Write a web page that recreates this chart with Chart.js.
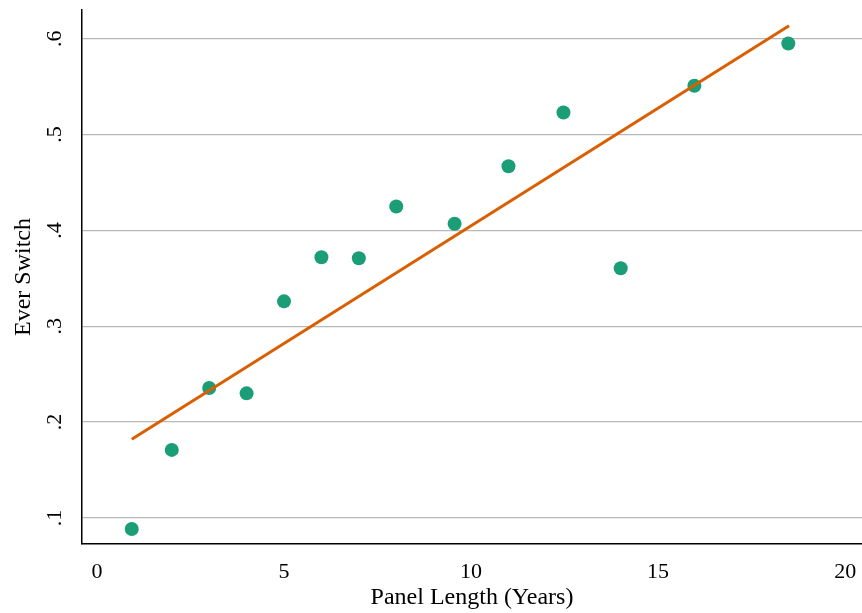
<!DOCTYPE html>
<html><head><meta charset="utf-8">
<script src="https://cdn.jsdelivr.net/npm/chart.js@4/dist/chart.umd.min.js"></script>
<style>html,body{margin:0;padding:0;background:#fff}#wrap{width:862px;height:613px}</style>
</head><body><div id="wrap"><canvas id="c" width="862" height="613"></canvas></div>
<script>
const panelLength = [0.93, 2, 3, 4, 5, 6, 7, 8, 9.56, 11, 12.47, 14, 15.97, 18.48];
const everSwitch = [0.0885, 0.171, 0.2355, 0.230, 0.326, 0.372, 0.371, 0.425, 0.407, 0.467, 0.523, 0.3605, 0.551, 0.595];
const fitX = [0.93, 18.5];
const fitY = [0.182, 0.6136];
const xTicks = [0, 5, 10, 15, 20];
const yTicks = [0.1, 0.2, 0.3, 0.4, 0.5, 0.6];
const yTickLabels = ['.1', '.2', '.3', '.4', '.5', '.6'];

const serif = "'Liberation Serif', 'Times New Roman', serif";

function noPad(s) { s.paddingTop = 0; s.paddingBottom = 0; s.paddingLeft = 0; s.paddingRight = 0; }

new Chart(document.getElementById('c'), {
  type: 'scatter',
  data: {
    datasets: [
      {
        type: 'line',
        order: 0,
        data: fitX.map((x, i) => ({x: x, y: fitY[i]})),
        borderColor: '#d95f02',
        borderWidth: 3,
        pointRadius: 0,
        fill: false,
        tension: 0
      },
      {
        order: 1,
        data: panelLength.map((x, i) => ({x: x, y: everSwitch[i]})),
        backgroundColor: '#1b9e77',
        borderWidth: 0,
        pointRadius: 7,
        pointHoverRadius: 7
      }
    ]
  },
  options: {
    responsive: false,
    animation: false,
    devicePixelRatio: 1,
    layout: {autoPadding: false, padding: {top: 10, right: 0, left: 0, bottom: 0}},
    plugins: {legend: {display: false}, tooltip: {enabled: false}},
    scales: {
      x: {
        type: 'linear',
        min: -0.4,
        max: 20.45,
        afterBuildTicks: s => { s.ticks = xTicks.map(v => ({value: v})); },
        afterFit: s => { s.height = 69; noPad(s); },
        grid: {display: false, drawTicks: false, tickLength: 0},
        border: {display: true, color: '#000', width: 1.5},
        ticks: {
          font: {family: serif, size: 22},
          color: '#000',
          padding: 15,
          maxRotation: 0,
          autoSkip: false,
          callback: v => String(v)
        },
        title: {
          display: true,
          text: 'Panel Length (Years)',
          font: {family: serif, size: 24},
          color: '#000',
          padding: {top: 0, bottom: 1}
        }
      },
      y: {
        type: 'linear',
        min: 0.0728,
        max: 0.630,
        afterBuildTicks: s => { s.ticks = yTicks.map(v => ({value: v})); },
        afterFit: s => { s.width = 82; noPad(s); },
        grid: {display: true, color: '#b8b8b8', lineWidth: 1.3, drawTicks: false, tickLength: 0},
        border: {display: true, color: '#000', width: 1.5},
        ticks: {
          font: {family: serif, size: 22},
          color: '#000',
          padding: 19,
          minRotation: 90,
          maxRotation: 90,
          crossAlign: 'center',
          autoSkip: false,
          callback: (v, i) => yTickLabels[i]
        },
        title: {
          display: true,
          text: 'Ever Switch',
          font: {family: serif, size: 24},
          color: '#000',
          padding: {top: 9, bottom: 0}
        }
      }
    }
  }
});
</script>
</body></html>
